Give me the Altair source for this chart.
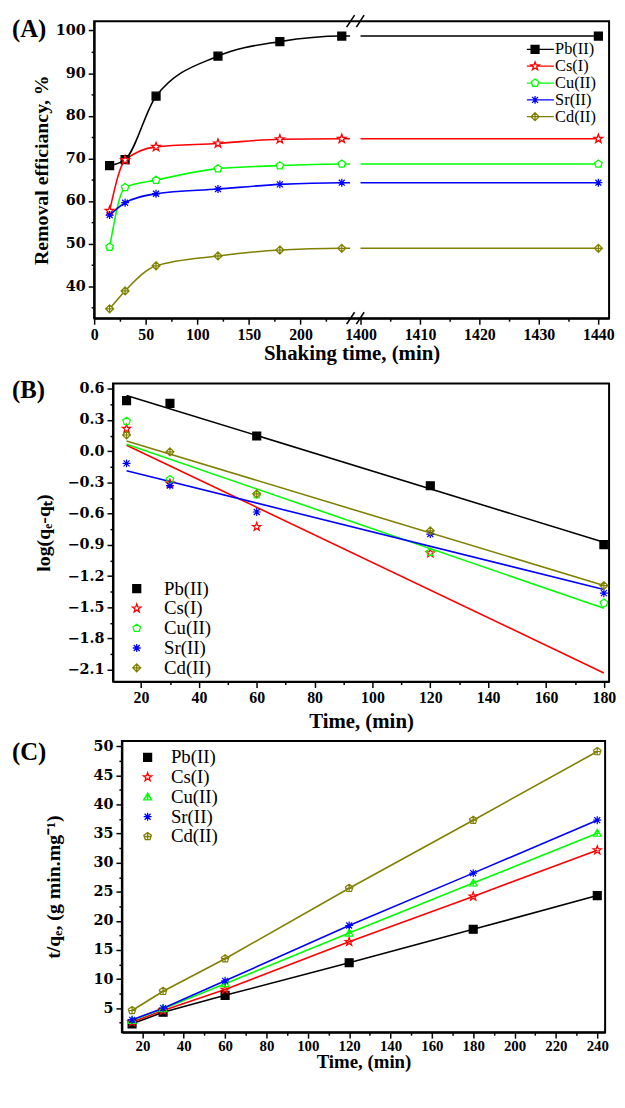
import altair as alt
import pandas as pd

ions = ["Pb(II)", "Cs(I)", "Cu(II)", "Sr(II)", "Cd(II)"]
colors = ["#000000", "#FF0000", "#00FF00", "#0000FF", "#808000"]

# ---------------- (A) removal efficiency vs shaking time ----------------
time_a = [15, 30, 60, 120, 180, 240, 1440]
eff_pb = [68.3, 69.7, 84.6, 94.0, 97.4, 98.7, 98.7]
eff_cs = [57.7, 69.6, 72.7, 73.5, 74.5, 74.6, 74.6]
eff_cu = [49.2, 63.2, 64.9, 67.6, 68.3, 68.7, 68.7]
eff_sr = [56.7, 59.6, 61.7, 62.8, 63.9, 64.3, 64.3]
eff_cd = [34.7, 38.9, 44.8, 47.1, 48.5, 48.9, 48.9]
xa_domain = [0, 248, 1398.8, 1441.8]          # broken axis (piecewise scale)
xa_ticks = [0, 25, 50, 75, 100, 125, 150, 175, 200, 225,
            1400, 1405, 1410, 1415, 1420, 1425, 1430, 1435, 1440]
ya_domain = [32.5, 102.2]
ya_ticks = [35, 40, 45, 50, 55, 60, 65, 70, 75, 80, 85, 90, 95, 100]
gap_t = [248.6]
gap_t2 = [1400]
gap_v = [33.6]
gap_v2 = [101.2]
slash_t = [244.7, 1399.3, 244.7, 1399.3]
slash_t2 = [1399.0, 1400.6, 1399.0, 1400.6]
slash_v = [100.8, 100.8, 31.1, 31.1]
slash_v2 = [103.6, 103.6, 33.9, 33.9]

# ---------------- (B) pseudo-first-order ----------------
time_b = [15, 30, 60, 120, 180]
log_pb = [0.486, 0.46, 0.146, -0.332, -0.898]
log_cs = [0.216, -0.31, -0.726, -0.98]
log_cu = [0.289, -0.272, -0.418, -0.97, -1.459]
log_sr = [-0.117, -0.33, -0.584, -0.796, -1.364]
log_cd = [0.156, -0.006, -0.409, -0.765, -1.291]
fit_t = [15, 180]
fit_pb = [0.536, -0.875]
fit_cs = [0.058, -2.131]
fit_cu = [0.067, -1.509]
fit_sr = [-0.187, -1.329]
fit_cd = [0.099, -1.290]
xb_domain = [10.3, 181.8]
yb_domain = [-2.214, 0.65]
xb_ticks = [20, 30, 40, 50, 60, 70, 80, 90, 100, 110, 120, 130, 140, 150, 160, 170, 180]
yb_ticks = [-2.1, -1.95, -1.8, -1.65, -1.5, -1.35, -1.2, -1.05, -0.9, -0.75, -0.6,
            -0.45, -0.3, -0.15, 0.0, 0.15, 0.3, 0.45, 0.6]

# ---------------- (C) pseudo-second-order ----------------
time_c = [15, 30, 60, 120, 180, 240]
tq_pb = [2.3, 4.3, 7.2, 12.8, 18.55, 24.34]
tq_cs = [2.6, 4.6, 8.2, 16.4, 24.2, 32.15]
tq_cu = [2.9, 4.9, 9.2, 17.9, 26.5, 35.05]
tq_sr = [3.0, 5.0, 9.7, 19.2, 28.2, 37.3]
tq_cd = [4.6, 7.9, 13.5, 25.6, 37.3, 49.1]
xc_domain = [10.07, 243.8]
yc_domain = [0.87, 50.9]
xc_ticks = [20, 30, 40, 50, 60, 70, 80, 90, 100, 110, 120, 130, 140, 150, 160,
            170, 180, 190, 200, 210, 220, 230, 240]
yc_ticks = [2.5, 5, 7.5, 10, 12.5, 15, 17.5, 20, 22.5, 25, 27.5, 30, 32.5, 35,
            37.5, 40, 42.5, 45, 47.5, 50]

# ---------------- marker shapes (unit box) ----------------
SQ = "M-1,-1H1V1H-1Z"
STAR = ("M0,-1.1L0.26,-0.36L1.05,-0.34L0.42,0.14L0.65,0.89L0,0.44"
        "L-0.65,0.89L-0.42,0.14L-1.05,-0.34L-0.26,-0.36Z")
PENT = "M0,-1L0.951,-0.309L0.588,0.809L-0.588,0.809L-0.951,-0.309Z"
AST = "M0,-1V1M-1,0H1M-0.75,-0.75L0.75,0.75M-0.75,0.75L0.75,-0.75"
DIAX = "M0,-1L1,0L0,1L-1,0ZM0,-1V1M-1,0H1"
TRIX = "M0,-1L1,0.75H-1ZM0,-1V0.75M-0.57,0H0.57"
PENX = PENT + "M0,-1V0.809M-0.85,0H0.85"

shapes_ab = [SQ, STAR, PENT, AST, DIAX]
shapes_c = [SQ, STAR, TRIX, AST, PENX]
legend_paths_a = ["M-4.75,0H4.75" + SQ,
                  "M-4.75,0H-0.55M0.55,0H4.75" + STAR,
                  "M-4.75,0H-0.85M0.85,0H4.75" + PENT,
                  "M-4.75,0H4.75" + AST,
                  "M-4.75,0H4.75" + DIAX]
fills_white = ["#000000", "#FFFFFF", "#FFFFFF", "#FFFFFF", "#FFFFFF"]
fills_clear = ["#000000", "transparent", "transparent", "transparent", "transparent"]


def long_df(xs_list, ys_list, xname="t", yname="v"):
    rows = []
    for ion, xs, ys in zip(ions, xs_list, ys_list):
        for x, y in zip(xs, ys):
            rows.append({"ion": ion, xname: x, yname: y})
    return pd.DataFrame(rows)


dfA = long_df([time_a] * 5, [eff_pb, eff_cs, eff_cu, eff_sr, eff_cd])
dfB = long_df([time_b, time_b[:4], time_b, time_b, time_b],
              [log_pb, log_cs, log_cu, log_sr, log_cd])
dfBfit = long_df([fit_t] * 5, [fit_pb, fit_cs, fit_cu, fit_sr, fit_cd])
dfC = long_df([time_c] * 5, [tq_pb, tq_cs, tq_cu, tq_sr, tq_cd])
gap_df = pd.DataFrame({"t": gap_t, "t2": gap_t2, "v": gap_v, "v2": gap_v2})
slash_df = pd.DataFrame({"t": slash_t, "t2": slash_t2, "v": slash_v, "v2": slash_v2})

SERIF = "Liberation Serif"
AX = dict(grid=False, domainColor="black", domainWidth=2, tickColor="black",
          tickWidth=1.5, labelColor="black", labelFontWeight="bold",
          labelOverlap=False, labelFlush=False, titleColor="black",
          titleFont=SERIF, titleFontWeight="bold")


def axis(values, test, title, fmt, xaxis, **kw):
    opts = dict(AX)
    if xaxis:
        opts.update(labelFont=SERIF, labelFontSize=16, labelPadding=2,
                    titleFontSize=21, titlePadding=1)
    else:
        opts.update(labelFont="DejaVu Serif", labelFontSize=14.5, labelPadding=3,
                    titleFontSize=20)
    opts.update(kw)
    return alt.Axis(values=values, title=title, format=fmt,
                    labelExpr=f"({test}) ? datum.label : ''",
                    tickSize={"condition": {"test": test, "value": 6}, "value": 3},
                    **opts)


def panel_title(text, dx, offset):
    return alt.TitleParams(text=text, anchor="start", frame="group", orient="top",
                           dx=dx, offset=offset, baseline="top", fontSize=25,
                           font=SERIF, fontWeight="bold", color="black")


def legend(x, y, size, label_offset, row_h):
    return alt.Legend(title=None, orient="none", legendX=x, legendY=y, padding=0,
                      labelFont=SERIF, labelFontSize=size, labelColor="black",
                      labelFontWeight="normal", labelOffset=label_offset,
                      symbolSize=64, symbolStrokeWidth=1.3, symbolOpacity=1,
                      rowPadding=0, clipHeight=row_h)


def series_lines(df, x, y, **mark_kw):
    return [alt.Chart(df).transform_filter(alt.datum.ion == ion)
            .mark_line(stroke=col, strokeWidth=1.6, **mark_kw).encode(x=x, y=y)
            for ion, col in zip(ions, colors)]


INDEP = dict(stroke="independent", shape="independent", fill="independent")


def wrap(panel):
    spacer = alt.Chart(pd.DataFrame({"s": [0]})).mark_point(opacity=0, size=0).encode(
        x=alt.value(0), y=alt.value(0)).properties(
        width=1, height=1, view=alt.ViewBackground(strokeOpacity=0))
    return alt.hconcat(spacer, panel, spacing=0).resolve_scale(**INDEP)


# ---------------- panel A ----------------
testAx = "datum.value % 50 === 0 || (datum.value >= 1400 && datum.value % 10 === 0)"
xA = alt.X("t:Q", scale=alt.Scale(domain=xa_domain, range=[0, 258.4, 261.8, 520],
                                  nice=False, zero=False),
           axis=axis(xa_ticks, testAx, "Shaking time, (min)", "d", True))
yA = alt.Y("v:Q", scale=alt.Scale(domain=ya_domain, nice=False, zero=False),
           axis=axis(ya_ticks, "datum.value % 10 === 0", "Removal efficiancy, %", "d",
                     False, titlePadding=4))
legA = legend(437, 20, 16.5, 12, 17)

linesA = series_lines(dfA, xA, yA, interpolate="monotone")
gapA = alt.Chart(gap_df).mark_rect(color="white").encode(x=xA, x2="t2:Q", y=yA, y2="v2:Q")
markersA = [
    alt.Chart(dfA).transform_filter(alt.datum.ion == ion).mark_point(
        shape=shp, size=64 if shp != STAR else 70, filled=False, fill=fl, stroke=col,
        strokeWidth=1.3, opacity=1).encode(x=xA, y=yA)
    for ion, shp, fl, col in zip(ions, shapes_ab, fills_white, colors)
]
legendLayerA = alt.Chart(dfA).mark_point(opacity=0, size=1, strokeWidth=1.3).encode(
    x=xA, y=yA,
    stroke=alt.Stroke("ion:N", scale=alt.Scale(domain=ions, range=colors), legend=legA),
    shape=alt.Shape("ion:N", scale=alt.Scale(domain=ions, range=legend_paths_a), legend=legA),
    fill=alt.Fill("ion:N", scale=alt.Scale(domain=ions, range=fills_white), legend=legA))
slashA = alt.Chart(slash_df).mark_rule(color="black", strokeWidth=1.6).encode(
    x=xA, x2="t2:Q", y=yA, y2="v2:Q")

chartA = alt.layer(*linesA, gapA, *markersA, legendLayerA, slashA).properties(
    width=520, height=300, title=panel_title("(A)", -83, -28))

# ---------------- panel B ----------------
xB = alt.X("t:Q", scale=alt.Scale(domain=xb_domain, nice=False, zero=False),
           axis=axis(xb_ticks, "datum.value % 20 === 0", "Time, (min)", "d", True,
                     titlePadding=5))
yB = alt.Y("v:Q", scale=alt.Scale(domain=yb_domain, nice=False, zero=False),
           axis=axis(yb_ticks, "abs(round(datum.value * 100)) % 30 === 0",
                     "log(qₑ-qₜ)", ".1f", False, titlePadding=14))
legB = legend(14.5, 197.4, 19, 18, 19.3)
fitB = series_lines(dfBfit, xB, yB)
ptsB = alt.Chart(dfB).mark_point(opacity=1, strokeWidth=1.2, size=64).encode(
    x=xB, y=yB,
    stroke=alt.Stroke("ion:N", scale=alt.Scale(domain=ions, range=colors), legend=legB),
    shape=alt.Shape("ion:N", scale=alt.Scale(domain=ions, range=shapes_ab), legend=legB),
    fill=alt.Fill("ion:N", scale=alt.Scale(domain=ions, range=fills_clear), legend=legB))
chartB = alt.layer(*fitB, ptsB).properties(width=501, height=301,
                                           title=panel_title("(B)", -102, -22))

# ---------------- panel C ----------------
xC = alt.X("t:Q", scale=alt.Scale(domain=xc_domain, nice=False, zero=False),
           axis=axis(xc_ticks, "datum.value % 20 === 0", "Time, (min)", "d", True,
                     titlePadding=0, titleFontSize=19, labelFontSize=15, labelPadding=0))
yC = alt.Y("v:Q", scale=alt.Scale(domain=yc_domain, nice=False, zero=False),
           axis=axis(yc_ticks, "datum.value % 5 === 0", "t/qₑ, (g min.mg⁻¹)", "d",
                     False, titlePadding=30))
legC = legend(16.5, 7, 19, 14, 18.8)
linesC = series_lines(dfC, xC, yC)
ptsC = alt.Chart(dfC).mark_point(opacity=1, strokeWidth=1.2, size=64).encode(
    x=xC, y=yC,
    stroke=alt.Stroke("ion:N", scale=alt.Scale(domain=ions, range=colors), legend=legC),
    shape=alt.Shape("ion:N", scale=alt.Scale(domain=ions, range=shapes_c), legend=legC),
    fill=alt.Fill("ion:N", scale=alt.Scale(domain=ions, range=fills_clear), legend=legC))
chartC = alt.layer(*linesC, ptsC).properties(width=488, height=294,
                                             title=panel_title("(C)", -111, -27))

inner = alt.vconcat(wrap(chartB), wrap(chartC), spacing=5).resolve_scale(**INDEP)
chart = alt.vconcat(wrap(chartA), inner, spacing=12).resolve_scale(**INDEP).properties(
    padding={"left": 2, "top": 0, "right": 0, "bottom": 0},
    background="white",
).configure_view(stroke="black", strokeWidth=2)

chart.save("out.html", embed_options={"renderer": "svg", "actions": False})
